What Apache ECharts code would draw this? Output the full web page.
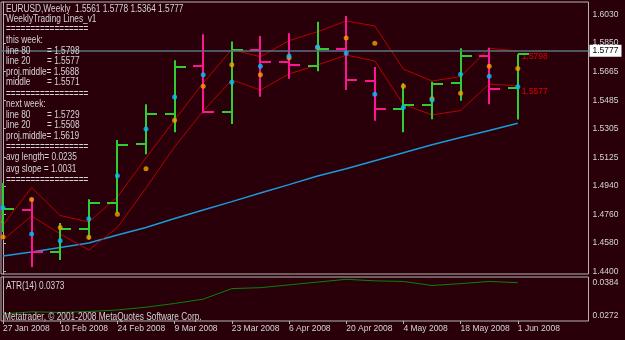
<!DOCTYPE html>
<html><head><meta charset="utf-8">
<script src="https://cdn.jsdelivr.net/npm/echarts@6/dist/echarts.min.js"></script>
<style>html,body{margin:0;padding:0;background:#29000a;}#c{width:625px;height:340px;}</style>
</head><body><div id="c"></div><script>
const weeks = ['27 Jan 2008','3 Feb 2008','10 Feb 2008','17 Feb 2008','24 Feb 2008','2 Mar 2008','9 Mar 2008','16 Mar 2008','23 Mar 2008','30 Mar 2008','6 Apr 2008','13 Apr 2008','20 Apr 2008','27 Apr 2008','4 May 2008','11 May 2008','18 May 2008','25 May 2008','1 Jun 2008'];
const opens  = [1.4712,1.4790,1.4524,1.4671,1.4836,1.5209,1.5401,1.5703,1.5414,1.5802,1.5727,1.5703,1.5811,1.5608,1.5431,1.5458,1.5597,1.5767,1.5561];
const highs  = [1.4961,1.4866,1.4708,1.4858,1.5234,1.5460,1.5740,1.5904,1.5858,1.5894,1.5911,1.5984,1.6020,1.5697,1.5594,1.5604,1.5816,1.5819,1.5778];
const lows   = [1.4651,1.4429,1.4473,1.4603,1.4771,1.5143,1.5283,1.5403,1.5336,1.5509,1.5623,1.5670,1.5551,1.5356,1.5283,1.5365,1.5483,1.5460,1.5364];
const closes = [1.4796,1.4524,1.4668,1.4833,1.5204,1.5397,1.5697,1.5414,1.5805,1.5731,1.5710,1.5811,1.5613,1.5433,1.5454,1.5589,1.5767,1.5559,1.5777];
const middles     = [1.4805,1.4638,1.4595,1.4735,1.5008,1.5304,1.5507,1.5648,1.5600,1.5701,1.5767,1.5824,1.5784,1.5524,1.5441,1.5488,1.5651,1.5638,1.5571];
const projMiddles = [1.4619,1.4857,1.4679,1.4617,1.4763,1.5052,1.5359,1.5575,1.5712,1.5648,1.5756,1.5821,1.5881,1.5847,1.5575,1.5496,1.5530,1.5701,1.5688];
const line80 = [1.4695,1.4933,1.4755,1.4714,1.4873,1.5120,1.5361,1.5596,1.5808,1.5762,1.5864,1.5921,1.5989,1.5957,1.5684,1.5608,1.5636,1.5816,1.5798];
const line20 = [1.4600,1.4752,1.4638,1.4536,1.4679,1.4930,1.5190,1.5418,1.5615,1.5551,1.5653,1.5710,1.5773,1.5735,1.5460,1.5393,1.5421,1.5589,1.5577];
const maLine = [1.4498,1.4524,1.4552,1.4581,1.4632,1.4679,1.4736,1.4790,1.4843,1.4898,1.4951,1.5006,1.5052,1.5103,1.5153,1.5204,1.5250,1.5294,1.5340];
const atr = [0.0272,0.0279,0.0277,0.0280,0.0285,0.0294,0.0306,0.0320,0.0354,0.0357,0.0366,0.0375,0.0384,0.0379,0.0377,0.0364,0.0370,0.0377,0.0373];
const priceTickLabels = ['1.4400','1.4580','1.4760','1.4940','1.5125','1.5305','1.5485','1.5665','1.5850','1.6030'];
const atrTickLabels = ['0.0384','0.0272'];
const dateTickIdx = [0,2,4,6,8,10,12,14,16,18];
const infoThis = {line80:'1.5798', line20:'1.5577', proj:'1.5688', middle:'1.5571'};
const infoNext = {line80:'1.5729', line20:'1.5508', proj:'1.5619'};
const avgLength = '0.0235', avgSlope = '1.0031', atrNow = '0.0373';

const FONT = "'Liberation Sans',Arial,sans-serif";
const AX = 8.5;
const TXT = '#d4d4d4', FRAME = '#b4b4b4';
const GREEN = '#32cd32', PINK = '#ff1493';
const n = weeks.length;
const pair = a => a.map((v, i) => [i, v]);
const ohlc = weeks.map((_, i) => [i, opens[i], highs[i], lows[i], closes[i]]);
const evenTicks = priceTickLabels.map((s, k) => 1.4400 + k * (1.6030 - 1.4400) / (priceTickLabels.length - 1));
const ATR_MIN = 0.024941, ATR_MAX = 0.039142, ATR_PX = (ATR_MAX - ATR_MIN) / 44;
// labels sit just below their value (top label hangs from it, bottom label kept inside the panel)
const atrLabelPos = [parseFloat(atrTickLabels[0]) - 3.4 * ATR_PX, parseFloat(atrTickLabels[1]) - 1.7 * ATR_PX];
const X0 = -0.07, X1 = 20.472;

const chart = echarts.init(document.getElementById('c'), null, {renderer: 'canvas'});
function nearestIdx(arr, v) { let b = 0; arr.forEach((a, k) => { if (Math.abs(a - v) < Math.abs(arr[b] - v)) b = k; }); return b; }

const txt = (x, y, s) => ({type: 'text', x: x, y: y, scaleX: 0.83, silent: true, z: 100,
  style: {text: s, fill: TXT, font: '10px ' + FONT, verticalAlign: 'middle', align: 'left'}});
const sep = '=================';
const graphics = [
  txt(6, 9, 'EURUSD,Weekly  ' + [opens[n-1], highs[n-1], lows[n-1], closes[n-1]].map(v => v.toFixed(4)).join(' ')),
  txt(6, 19, 'WeeklyTrading Lines_v1'),
  txt(6, 29.5, sep),
  txt(6, 40.3, 'this week:'),
  txt(6, 51, 'line 80'), txt(47, 51, '= ' + infoThis.line80),
  txt(6, 61.5, 'line 20'), txt(47, 61.5, '= ' + infoThis.line20),
  txt(6, 72, 'proj.middle= ' + infoThis.proj),
  txt(6, 82.5, 'middle'), txt(47, 82.5, '= ' + infoThis.middle),
  txt(6, 94, sep),
  txt(6, 104.3, 'next week:'),
  txt(6, 115, 'line 80'), txt(47, 115, '= ' + infoNext.line80),
  txt(6, 125.7, 'line 20'), txt(47, 125.7, '= ' + infoNext.line20),
  txt(6, 136.7, 'proj.middle= ' + infoNext.proj),
  txt(6, 147.7, sep),
  txt(6, 157.7, 'avg length= ' + avgLength),
  txt(6, 169, 'avg slope = ' + avgSlope),
  txt(6, 180, sep),
  txt(6, 286, 'ATR(14) ' + atrNow),
  txt(4, 317, 'Metatrader, \u00a9 2001-2008 MetaQuotes Software Corp.')
];

chart.setOption({
  backgroundColor: '#29000a',
  animation: false,
  textStyle: {fontFamily: FONT},
  grid: [
    {left: 1, right: 36.5, top: 2, height: 272, show: true, borderColor: FRAME, borderWidth: 1, backgroundColor: 'transparent'},
    {left: 1, right: 36.5, top: 277, height: 44, show: true, borderColor: FRAME, borderWidth: 1, backgroundColor: 'transparent'}
  ],
  xAxis: [
    {type: 'value', gridIndex: 0, min: X0, max: X1, show: false},
    {type: 'value', gridIndex: 1, min: X0, max: X1,
      axisLine: {show: false}, splitLine: {show: false},
      axisTick: {show: true, length: 3, customValues: dateTickIdx, lineStyle: {color: FRAME}},
      axisLabel: {show: true, customValues: dateTickIdx, formatter: v => weeks[Math.round(v)], align: 'left', margin: 3,
        color: TXT, fontSize: AX, fontFamily: FONT}}
  ],
  yAxis: [
    {type: 'value', gridIndex: 0, position: 'right', min: 1.438414, max: 1.610928, splitLine: {show: false},
      axisLine: {show: true, lineStyle: {color: FRAME}},
      axisTick: {show: true, length: 3, customValues: evenTicks, lineStyle: {color: FRAME}},
      axisLabel: {customValues: evenTicks, formatter: v => priceTickLabels[nearestIdx(evenTicks, v)], color: TXT, fontSize: AX, fontFamily: FONT, margin: 4}},
    {type: 'value', gridIndex: 1, position: 'right', min: ATR_MIN, max: ATR_MAX, splitLine: {show: false},
      axisLine: {show: true, lineStyle: {color: FRAME}},
      axisTick: {show: false},
      axisLabel: {customValues: atrLabelPos, formatter: v => atrTickLabels[nearestIdx(atrLabelPos, v)], color: TXT, fontSize: AX, fontFamily: FONT, margin: 4}}
  ],
  graphic: graphics,
  series: [
    {type: 'line', name: 'MA', xAxisIndex: 0, yAxisIndex: 0, data: pair(maLine), showSymbol: false, z: 2,
      lineStyle: {color: '#1a9ad8', width: 1.5},
      markLine: {silent: true, symbol: ['none', 'none'], animation: false,
        lineStyle: {color: '#587482', width: 1.5, type: 'solid'},
        label: {show: true, position: 'end', distance: 1, formatter: () => closes[n-1].toFixed(4),
          backgroundColor: '#ffffff', color: '#000000', fontSize: AX, fontFamily: FONT, padding: [2, 3, 1, 3]},
        data: [{yAxis: closes[n-1]}]}},
    {type: 'line', name: 'line80', xAxisIndex: 0, yAxisIndex: 0, data: pair(line80), showSymbol: false, z: 3,
      lineStyle: {color: '#b80000', width: 1},
      endLabel: {show: true, formatter: p => p.value[1].toFixed(4), color: '#e00000', fontSize: AX, fontFamily: FONT, distance: 4, offset: [0, 6]}},
    {type: 'line', name: 'line20', xAxisIndex: 0, yAxisIndex: 0, data: pair(line20), showSymbol: false, z: 3,
      lineStyle: {color: '#b80000', width: 1},
      endLabel: {show: true, formatter: p => p.value[1].toFixed(4), color: '#e00000', fontSize: AX, fontFamily: FONT, distance: 4, offset: [0, 6]}},
    {type: 'custom', name: 'OHLC', xAxisIndex: 0, yAxisIndex: 0, data: ohlc, z: 4, clip: true,
      encode: {x: 0, y: [1, 2, 3, 4]},
      renderItem: (params, api) => {
        const i = api.value(0);
        const o = api.coord([i, api.value(1)]), h = api.coord([i, api.value(2)]);
        const l = api.coord([i, api.value(3)]), c = api.coord([i, api.value(4)]);
        const col = api.value(4) >= api.value(1) ? GREEN : PINK;
        const x = Math.round(h[0]);
        const st = {stroke: col, lineWidth: 2};
        return {type: 'group', children: [
          {type: 'line', shape: {x1: x, y1: h[1], x2: x, y2: l[1]}, style: st},
          {type: 'line', shape: {x1: x - 10, y1: Math.round(o[1]), x2: x, y2: Math.round(o[1])}, style: st},
          {type: 'line', shape: {x1: x, y1: Math.round(c[1]), x2: x + 11, y2: Math.round(c[1])}, style: st}
        ]};
      }},
    {type: 'scatter', name: 'proj.middle', xAxisIndex: 0, yAxisIndex: 0, data: pair(projMiddles), z: 5,
      symbol: 'circle', symbolSize: 5, itemStyle: {color: '#f5a000'}},
    {type: 'scatter', name: 'middle', xAxisIndex: 0, yAxisIndex: 0, data: pair(middles), z: 6,
      symbol: 'circle', symbolSize: 5, itemStyle: {color: '#00bfff'}},
    {type: 'line', name: 'ATR', xAxisIndex: 1, yAxisIndex: 1, data: pair(atr), showSymbol: false, z: 2,
      lineStyle: {color: '#0a820a', width: 1}}
  ]
});
</script></body></html>
